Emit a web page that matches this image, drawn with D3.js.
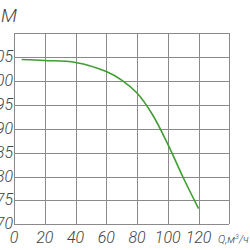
<!DOCTYPE html>
<html lang="ru">
<head>
    <meta charset="UTF-8">
    <title>Q-H</title>
    <script src="https://d3js.org/d3.v7.min.js"></script>
    <style>
        body { margin: 0; background: #fff; }
        .grid-line { stroke: #8a8a8a; stroke-width: 1; shape-rendering: crispEdges; }
        .tick-label {
            font-family: Roboto, "DejaVu Sans Condensed", sans-serif;
            font-style: italic;
            font-weight: 300;
            font-size: 16px;
            fill: #444;
        }
    </style>
</head>
<body>
<script>
    // подача Q, м3/ч и напор H, м
    const flow = [5, 20, 40, 60, 70, 80, 90, 100, 110, 120];
    const head = [104.5, 104.3, 103.9, 102.0, 100.2, 97.5, 93.0, 86.8, 79.8, 73.3];
    const xTicks = [0, 20, 40, 60, 80, 100, 120, 140];
    const xLabels = ["0", "20", "40", "60", "80", "100", "120"];
    const yTicks = [70, 75, 80, 85, 90, 95, 100, 105, 110];
    const yLabels = ["70", "75", "80", "85", "90", "95", "100", "105"];

    const width = 250, height = 250;

    const svg = d3.select("body").append("svg")
        .attr("width", width)
        .attr("height", height);

    // шкалы
    const x = d3.scaleLinear().domain([0, 140]).range([14, 229.3]);
    const y = d3.scaleLinear().domain([70, 110]).range([224.3, 33.3]);

    // сетка
    svg.selectAll(".vline")
        .data(xTicks)
        .enter().append("line")
        .attr("class", "grid-line")
        .attr("x1", d => Math.round(x(d)) + 0.5)
        .attr("x2", d => Math.round(x(d)) + 0.5)
        .attr("y1", y(110))
        .attr("y2", y(70));

    svg.selectAll(".hline")
        .data(yTicks)
        .enter().append("line")
        .attr("class", "grid-line")
        .attr("x1", x(0))
        .attr("x2", x(140))
        .attr("y1", d => Math.round(y(d)) + 0.5)
        .attr("y2", d => Math.round(y(d)) + 0.5);

    // подписи осей
    svg.selectAll(".xlab")
        .data(xLabels)
        .enter().append("text")
        .attr("class", "tick-label")
        .attr("x", d => x(+d))
        .attr("y", 243)
        .attr("text-anchor", "middle")
        .text(d => d);

    svg.selectAll(".ylab")
        .data(yLabels)
        .enter().append("text")
        .attr("class", "tick-label")
        .attr("x", 13)
        .attr("y", d => y(+d) + 5)
        .attr("text-anchor", "end")
        .text(d => d);

    svg.append("text")
        .attr("class", "tick-label")
        .attr("x", 218)
        .attr("y", 243)
        .style("font-size", "11px")
        .html("Q,м<tspan dy='-4' font-size='7'>3</tspan><tspan dy='4'>/ч</tspan>");

    svg.append("text")
        .attr("class", "tick-label")
        .attr("x", 17)
        .attr("y", 22)
        .attr("text-anchor", "end")
        .style("font-size", "19px")
        .text("H,М");

    // кривая
    const line = d3.line()
        .x(d => x(d[0]))
        .y(d => y(d[1]))
        .curve(d3.curveCatmullRom.alpha(0.5));

    svg.append("path")
        .datum(flow.map((q, i) => [q, head[i]]))
        .attr("fill", "none")
        .attr("stroke", "#3f9e32")
        .attr("stroke-width", 1.6)
        .attr("d", line);
</script>
</body>
</html>
